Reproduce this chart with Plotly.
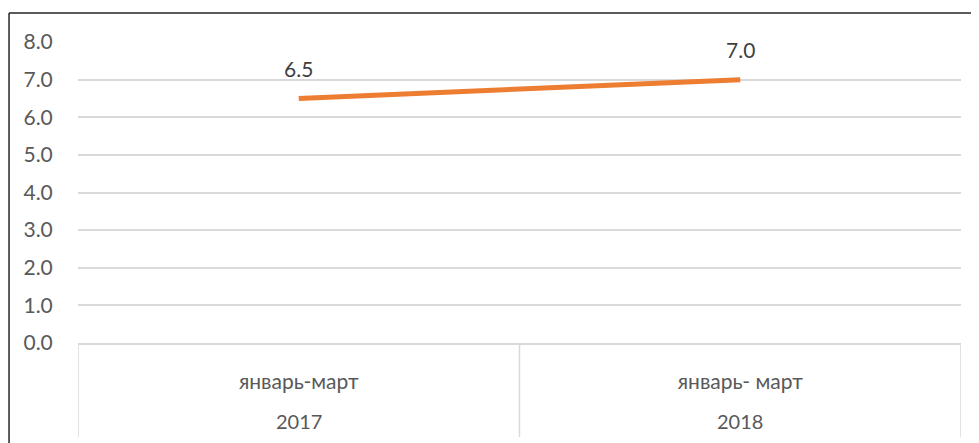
import plotly.graph_objects as go

years = ["2017", "2018"]
periods = ["январь-март", "январь- март"]
values = [6.5, 7.0]
y_ticks = [0, 1, 2, 3, 4, 5, 6, 7, 8]

font_family = "Lato, 'Open Sans', sans-serif"
text_color = "#595959"
grid_color = "#d9d9d9"

fig = go.Figure()
fig.add_trace(go.Scatter(
    x=years, y=values, mode="lines",
    line=dict(color="#ED7D31", width=5),
    hoverinfo="skip", showlegend=False,
))

# data labels (category axis: position by index)
for i, v in enumerate(values):
    fig.add_annotation(x=i, y=v, xref="x", yref="y", text=f"{v:.1f}", showarrow=False,
                       yshift=30, font=dict(size=21, color="#404040", family=font_family))

# second level of the category axis (years)
for i, yr in enumerate(years):
    fig.add_annotation(x=i, y=-0.305, xref="x", yref="paper", text=yr,
                       showarrow=False, font=dict(size=20, color=text_color, family=font_family))

# group dividers of the category axis
for i in range(len(years) + 1):
    fig.add_shape(type="line", xref="x", yref="paper", x0=i - 0.5, x1=i - 0.5,
                  y0=-0.312, y1=0, line=dict(color=grid_color, width=1.5))

# outer border of the chart area (top and left edges visible)
fig.add_shape(type="line", xref="paper", yref="paper", x0=-0.0781, x1=-0.0781,
              y0=-0.4, y1=1.0963, line=dict(color="#262626", width=1.5))
fig.add_shape(type="line", xref="paper", yref="paper", x0=-0.0781, x1=1.2,
              y0=1.0963, y1=1.0963, line=dict(color="#262626", width=1.5))

fig.update_layout(
    width=979, height=443,
    margin=dict(l=70, r=26, t=34, b=108),
    paper_bgcolor="white", plot_bgcolor="white",
    font=dict(family=font_family, size=20, color=text_color),
    xaxis=dict(
        type="category", range=[-0.5, len(years) - 0.5], automargin=False,
        tickvals=years, ticktext=periods,
        showgrid=False, showline=True, linecolor=grid_color, linewidth=1.5,
        ticks="outside", ticklen=19, tickcolor="rgba(0,0,0,0)",
        tickfont=dict(size=21, color=text_color),
    ),
    yaxis=dict(
        range=[0, 8], tickvals=y_ticks, tickformat=".1f", automargin=False,
        showgrid=True, gridcolor=grid_color, gridwidth=1.5,
        zeroline=False, showline=False,
        ticks="outside", ticklen=20, tickcolor="rgba(0,0,0,0)",
        tickfont=dict(size=21, color=text_color),
    ),
)

fig.write_html("out.html")
